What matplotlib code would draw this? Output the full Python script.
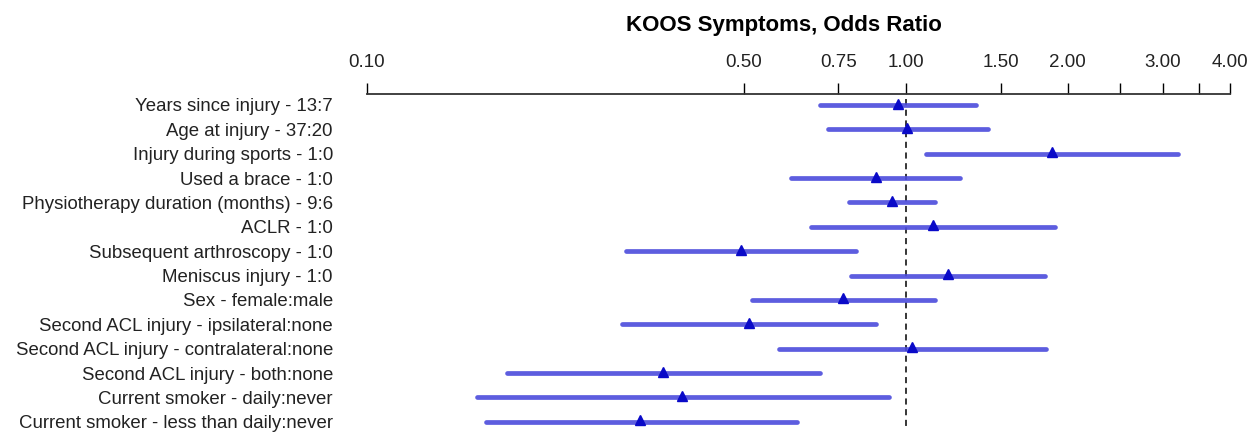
import matplotlib
matplotlib.use("Agg")
import matplotlib.pyplot as plt
import numpy as np
from matplotlib.ticker import FixedLocator, FixedFormatter, NullLocator

plt.rcParams['font.family'] = ['Liberation Sans', 'DejaVu Sans']

labels = [
    "Years since injury - 13:7",
    "Age at injury - 37:20",
    "Injury during sports - 1:0",
    "Used a brace - 1:0",
    "Physiotherapy duration (months) - 9:6",
    "ACLR - 1:0",
    "Subsequent arthroscopy - 1:0",
    "Meniscus injury - 1:0",
    "Sex - female:male",
    "Second ACL injury - ipsilateral:none",
    "Second ACL injury - contralateral:none",
    "Second ACL injury - both:none",
    "Current smoker - daily:never",
    "Current smoker - less than daily:never",
]
odds_ratio = [0.966, 1.007, 1.869, 0.881, 0.945, 1.126, 0.494, 1.197, 0.766, 0.511, 1.027, 0.355, 0.385, 0.321]
ci_low = [0.693, 0.716, 1.092, 0.612, 0.786, 0.666, 0.303, 0.790, 0.518, 0.297, 0.582, 0.182, 0.160, 0.166]
ci_high = [1.349, 1.419, 3.20, 1.264, 1.133, 1.894, 0.807, 1.813, 1.133, 0.881, 1.825, 0.693, 0.933, 0.628]

tick_values = [0.10, 0.50, 0.75, 1.00, 1.50, 2.00, 2.50, 3.00, 3.50, 4.00]
tick_labels = ["0.10", "0.50", "0.75", "1.00", "1.50", "2.00", "", "3.00", "", "4.00"]
title = "KOOS Symptoms, Odds Ratio"

W, H = 1253, 434
fig = plt.figure(figsize=(W / 100, H / 100), dpi=100)
left_px, right_px, top_px, bot_px = 367, 1230, 94, 434
ax = fig.add_axes([left_px / W, 1 - bot_px / H, (right_px - left_px) / W, (bot_px - top_px) / H])

y = np.arange(len(labels))
ax.hlines(y, ci_low, ci_high, color="#4b4bdc", lw=3.4, alpha=0.9, capstyle="round", zorder=2)
ax.plot(odds_ratio, y - 0.06, linestyle="none", marker="^", color="#0a0ac8", markersize=7.5, zorder=3)
ax.plot([1, 1], [-0.25, 13.35], color="black", lw=1.1, linestyle=(0, (4, 3)), zorder=1)

ax.set_xscale("log")
ax.set_xlim(0.1, 4.0)
ax.set_ylim(13.5, -0.45)

ax.xaxis.set_major_locator(FixedLocator(tick_values))
ax.xaxis.set_major_formatter(FixedFormatter(tick_labels))
ax.xaxis.set_minor_locator(NullLocator())
ax.xaxis.tick_top()
ax.tick_params(axis="x", direction="out", length=8, width=1.0, labelsize=13.5, pad=8.6,
               colors="black", labelcolor="#222222")

ax.set_yticks(y)
ax.set_yticklabels(labels, fontsize=13.4, color="#222222")
ax.tick_params(axis="y", length=0, pad=24.5)

for s in ["left", "right", "bottom"]:
    ax.spines[s].set_visible(False)
ax.spines["top"].set_linewidth(1.3)
ax.spines["top"].set_color("#333333")

fig.text(784 / W, 1 - 25 / H, title, ha="center", va="center", fontsize=16, fontweight="bold")

fig.savefig("out.png", dpi=100)
